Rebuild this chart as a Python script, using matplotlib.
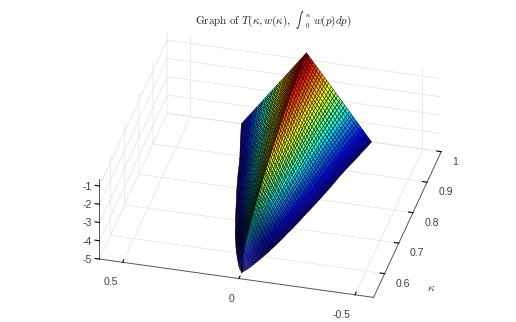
import numpy as np
import matplotlib
matplotlib.use('Agg')
import matplotlib.pyplot as plt

# kappa of each mesh row, half width of the surface and height of its ridge above z=-5
kappa = [0.542, 0.551, 0.560, 0.569, 0.579, 0.588, 0.597, 0.606, 0.615, 0.624, 0.634,
         0.643, 0.652, 0.661, 0.670, 0.679, 0.689, 0.698, 0.707, 0.716, 0.725,
         0.734, 0.744, 0.753, 0.762, 0.771, 0.780, 0.789, 0.799, 0.808, 0.817,
         0.826, 0.835, 0.844, 0.854, 0.863, 0.872, 0.881, 0.890, 0.899, 0.909,
         0.918, 0.927, 0.936, 0.945, 0.954, 0.964, 0.973, 0.982, 0.991, 1.000]
half_width = [0.000, 0.014, 0.024, 0.032, 0.040, 0.048, 0.055, 0.062, 0.069, 0.075, 0.082,
              0.088, 0.094, 0.100, 0.105, 0.110, 0.116, 0.122, 0.127, 0.132, 0.137,
              0.142, 0.147, 0.152, 0.157, 0.162, 0.167, 0.172, 0.177, 0.182, 0.186,
              0.191, 0.195, 0.200, 0.204, 0.208, 0.212, 0.216, 0.221, 0.225, 0.231,
              0.236, 0.241, 0.246, 0.251, 0.256, 0.261, 0.266, 0.271, 0.275, 0.280]
ridge = [0.00, 0.55, 0.86, 1.08, 1.25, 1.37, 1.50, 1.63, 1.74, 1.85, 1.97,
         2.07, 2.17, 2.26, 2.35, 2.44, 2.53, 2.61, 2.69, 2.77, 2.85,
         2.92, 3.00, 3.07, 3.14, 3.21, 3.27, 3.33, 3.40, 3.46, 3.52,
         3.58, 3.63, 3.69, 3.75, 3.80, 3.85, 3.90, 3.95, 4.00, 4.05,
         4.09, 4.13, 4.17, 4.21, 4.25, 4.28, 4.31, 4.34, 4.36, 4.38]
# position across a row (one side, mirrored below) and share of the ridge height there
across = [0.00, 0.03, 0.07, 0.10, 0.14, 0.17, 0.21, 0.24, 0.28, 0.31, 0.34, 0.38, 0.41, 0.45, 0.48,
          0.52, 0.55, 0.59, 0.62, 0.66, 0.69, 0.72, 0.76, 0.79, 0.83, 0.86, 0.90, 0.93, 0.97, 1.00]
share = [1.00, 0.97, 0.93, 0.90, 0.86, 0.83, 0.79, 0.76, 0.72, 0.69, 0.66, 0.62, 0.59, 0.55, 0.52,
         0.48, 0.45, 0.41, 0.38, 0.34, 0.31, 0.28, 0.24, 0.21, 0.17, 0.14, 0.10, 0.07, 0.03, 0.00]

x_ticks = [-0.5, 0, 0.5]
x_labels = ['-0.5', '0', '0.5']
y_ticks = [0.6, 0.7, 0.8, 0.9, 1.0]
y_labels = ['0.6', '0.7', '0.8', '0.9', '1']
z_ticks = [-5, -4, -3, -2, -1]
z_labels = ['-5', '-4', '-3', '-2', '-1']

plt.rcParams['font.family'] = 'Liberation Sans'
plt.rcParams['mathtext.fontset'] = 'cm'
plt.rcParams['grid.color'] = '#e2e2e2'
plt.rcParams['grid.linewidth'] = 0.5

u = np.array([-a for a in across[:0:-1]] + across)
s = np.array(share[:0:-1] + share)
K = np.array(kappa)[:, None] * np.ones(len(u))
X = np.array(half_width)[:, None] * u
Z = -5 + np.array(ridge)[:, None] * s

fig = plt.figure(figsize=(5.16, 3.22), dpi=100)
ax = fig.add_axes([105 / 516, -8.5 / 322, 322 / 516, 1], projection='3d', proj_type='ortho')
ax.view_init(elev=33.3, azim=-75.7)
ax.set_box_aspect((284, 275, 96.6), zoom=1.222)

surf = ax.plot_surface(X, K, Z, cmap='jet', vmin=-5, vmax=-0.62, rstride=1, cstride=1,
                       edgecolor='black', linewidth=0.32, shade=False)

# mesh lines crowd together near the tip, so fade them there
fade = np.clip(np.array(half_width[:-1]) / 0.07, 0.15, 1)
edges = np.zeros((len(fade) * (len(u) - 1), 4))
edges[:, 3] = np.repeat(fade, len(u) - 1)
surf.set_edgecolor(edges)

ax.set_xlim(0.60, -0.58, view_margin=0)
ax.set_ylim(0.522, 1.0, view_margin=0)
ax.set_zlim(-5, -0.6, view_margin=0)
ax.set_xticks(x_ticks, x_labels, ha='right')
ax.set_yticks(y_ticks, y_labels, ha='left')
ax.set_zticks(z_ticks, z_labels, va='baseline')
ax.tick_params(labelsize=7.6, labelcolor='#404040')
ax.tick_params(axis='x', pad=0)
ax.tick_params(axis='y', pad=-3)
ax.tick_params(axis='z', pad=-3.6)

# z axis on the left corner, with its ticks running along the x direction
ax.zaxis._axinfo['juggled'] = (1, 2, 0)
ax.zaxis._get_tickdir = lambda pos: 0
for axis in (ax.xaxis, ax.yaxis, ax.zaxis):
    axis.pane.set_visible(False)
    axis.line.set_color('#555555')
    axis.line.set_linewidth(0.7)
    axis._axinfo['tick']['inward_factor'] = 0
    axis._axinfo['tick']['outward_factor'] = 0.2
    axis._axinfo['tick']['color'] = '#555555'

ax.patch.set_alpha(0)
# title in pieces, mathtext has only a large integral sign
fig.text(195 / 516, 1 - 21 / 322, r'$\mathrm{Graph\ of\ } T(\kappa, w(\kappa),$',
         fontsize=8, ha='left', va='center', color='#222222')
fig.text(299.5 / 516, 1 - 20 / 322, r'$\int$', fontsize=5.5, ha='center', va='center', color='#222222')
fig.text(305 / 516, 1 - 15 / 322, r'$\kappa$', fontsize=5, ha='left', va='center', color='#222222')
fig.text(305 / 516, 1 - 26 / 322, r'$0$', fontsize=5, ha='left', va='center', color='#222222')
fig.text(313 / 516, 1 - 21 / 322, r'$w(p)dp)$', fontsize=8, ha='left', va='center', color='#222222')
fig.text(431 / 516, 1 - 288 / 322, r'$\kappa$', fontsize=8.5, ha='center', va='center', color='#404040')

fig.savefig('out.png', dpi=100)
